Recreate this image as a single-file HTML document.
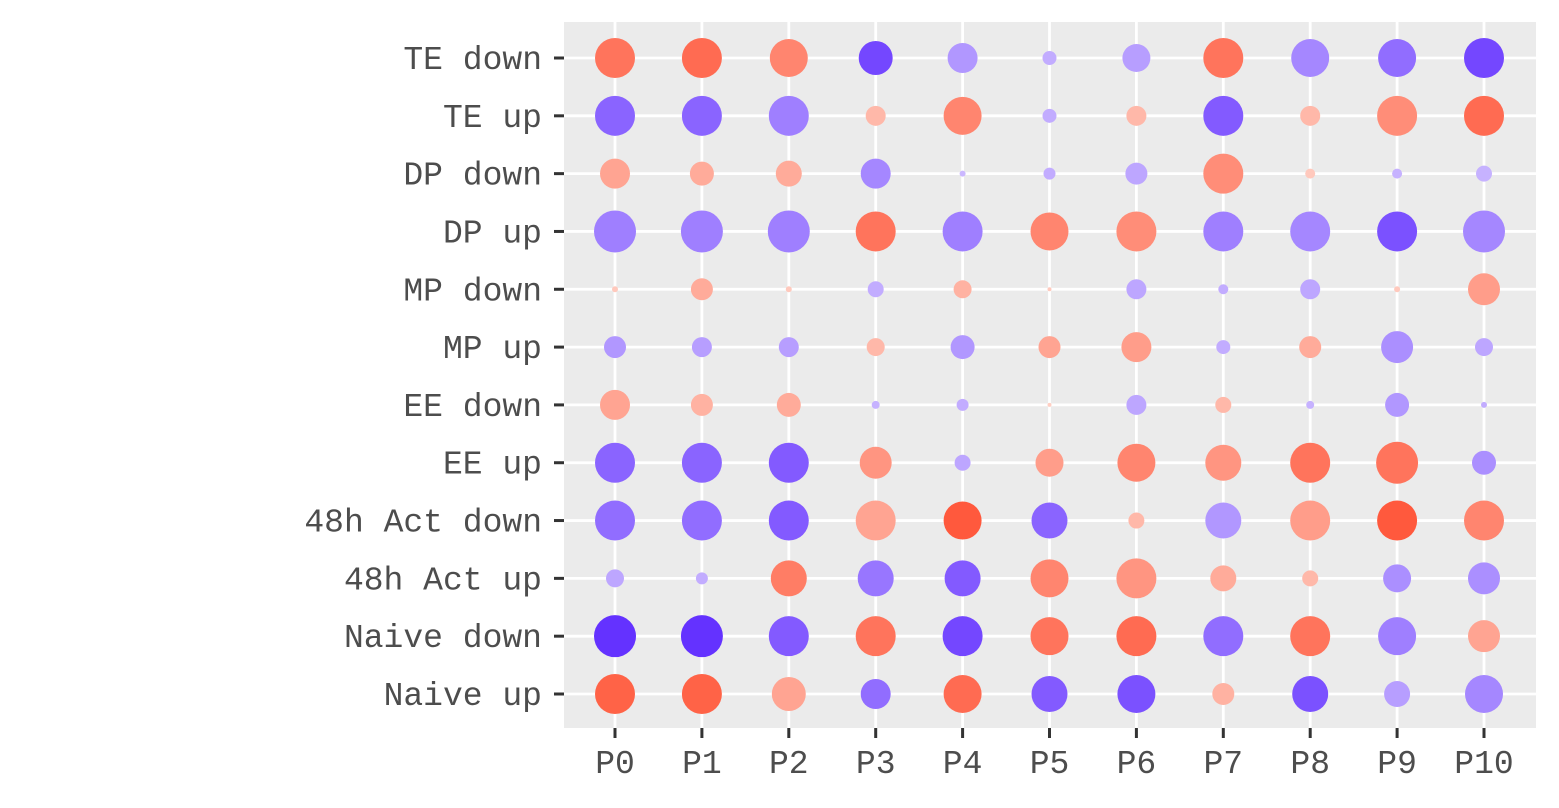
<!DOCTYPE html>
<html><head><meta charset="utf-8"><style>
body{margin:0;background:#fff;}
svg text{font-family:"Liberation Mono",monospace;font-size:33px;fill:#4d4d4d;}
</style></head><body>
<svg id="chart" width="1559" height="803" xmlns="http://www.w3.org/2000/svg"></svg>
<script>
const columns=["P0","P1","P2","P3","P4","P5","P6","P7","P8","P9","P10"];
const rows=["TE down","TE up","DP down","DP up","MP down","MP up","EE down","EE up","48h Act down","48h Act up","Naive down","Naive up"];
// colour values (negative = purple, positive = red)
const cTEdown=[0.8,0.85,0.7,-0.9,-0.45,-0.3,-0.4,0.8,-0.55,-0.7,-0.9];
const cTEup=[-0.75,-0.75,-0.6,0.35,0.7,-0.3,0.35,-0.8,0.35,0.65,0.85];
const cDPdown=[0.5,0.45,0.45,-0.55,-0.2,-0.3,-0.35,0.65,0.2,-0.25,-0.25];
const cDPup=[-0.6,-0.6,-0.6,0.8,-0.6,0.7,0.65,-0.6,-0.55,-0.85,-0.55];
const cMPdown=[0.2,0.45,0.2,-0.3,0.4,0.2,-0.35,-0.3,-0.35,0.2,0.55];
const cMPup=[-0.45,-0.4,-0.4,0.35,-0.45,0.5,0.55,-0.3,0.45,-0.5,-0.35];
const cEEdown=[0.5,0.4,0.45,-0.25,-0.3,0.15,-0.35,0.35,-0.25,-0.45,-0.3];
const cEEup=[-0.75,-0.75,-0.8,0.6,-0.35,0.55,0.7,0.6,0.8,0.8,-0.5];
const cActdown=[-0.7,-0.7,-0.8,0.5,0.95,-0.75,0.35,-0.45,0.55,0.95,0.7];
const cActup=[-0.35,-0.3,0.75,-0.65,-0.8,0.7,0.6,0.45,0.35,-0.5,-0.5];
const cNaivedown=[-1,-1,-0.8,0.8,-0.9,0.8,0.85,-0.7,0.8,-0.6,0.5];
const cNaiveup=[0.9,0.9,0.5,-0.7,0.85,-0.8,-0.85,0.4,-0.85,-0.4,-0.55];
// size values
const sTEdown=[20,20,19,17,15,7,14,20,19,19,20];
const sTEup=[20,20,20,10,19,7,10,20,10,20,20];
const sDPdown=[15,12,13,15,3,6,11,20,5,5,8];
const sDPup=[21,21,21,20,20,19,20,20,20,20,21];
const sMPdown=[3,11,3,8,9,2,10,5,10,3,16];
const sMPup=[11,10,10,9,12,11,15,7,11,16,9];
const sEEdown=[15,11,12,4,6,2,10,8,4,12,3];
const sEEup=[20,20,20,16,8,14,19,18,20,21,12];
const sActdown=[20,20,20,20,19,18,8,18,20,20,20];
const sActup=[9,6,18,18,18,19,20,13,8,14,16];
const sNaivedown=[21,21,20,20,20,19,20,20,20,19,16];
const sNaiveup=[20,20,17,15,19,18,19,11,18,13,19];
const colours=[cTEdown,cTEup,cDPdown,cDPup,cMPdown,cMPup,cEEdown,cEEup,cActdown,cActup,cNaivedown,cNaiveup];
const sizes=[sTEdown,sTEup,sDPdown,sDPup,sMPdown,sMPup,sEEdown,sEEup,sActdown,sActup,sNaivedown,sNaiveup];

const svg=document.getElementById('chart');
const NS="http://www.w3.org/2000/svg";
const L=564,R=1536,T=22,B=728;
const xStep=(1484-615)/10, yStep=(694-58)/11;
const xs=i=>615+i*xStep, ys=j=>58+j*yStep;
function mk(t,a){const e=document.createElementNS(NS,t);for(const k in a)e.setAttribute(k,a[k]);svg.appendChild(e);return e;}
function lerp(a,b,t){return Math.round(a+(b-a)*t);}
function color(v){const t=Math.pow(Math.min(1,Math.abs(v)),1.4);
 if(v>=0)return `rgb(255,${lerp(215,80,t)},${lerp(205,50,t)})`;
 return `rgb(${lerp(215,100,t)},${lerp(200,50,t)},255)`;}
const rScale=s=>s*1.0;

let e=mk('rect',{x:L,y:T,width:R-L,height:B-T,fill:'#ebebeb'});

columns.forEach((c,i)=>{
 let g=mk('line',{x1:xs(i),x2:xs(i),y1:T,y2:B,stroke:'#fff','stroke-width':2.8});
 
 let t=mk('line',{x1:xs(i),x2:xs(i),y1:B,y2:B+10,stroke:'#333','stroke-width':3});
 
 let tx=mk('text',{x:xs(i),y:773,'text-anchor':'middle'});tx.textContent=c;
 
});
rows.forEach((r,j)=>{
 let g=mk('line',{x1:L,x2:R,y1:ys(j),y2:ys(j),stroke:'#fff','stroke-width':2.8});
 
 let t=mk('line',{x1:L-10,x2:L,y1:ys(j),y2:ys(j),stroke:'#333','stroke-width':3});
 
 let tx=mk('text',{x:542,y:ys(j)+11,'text-anchor':'end'});tx.textContent=r;
 
});
colours.forEach((row,j)=>row.forEach((v,i)=>{
 let c=mk('circle',{cx:xs(i),cy:ys(j),r:rScale(sizes[j][i]),fill:color(v)});
 
}));
</script>
</body></html>
